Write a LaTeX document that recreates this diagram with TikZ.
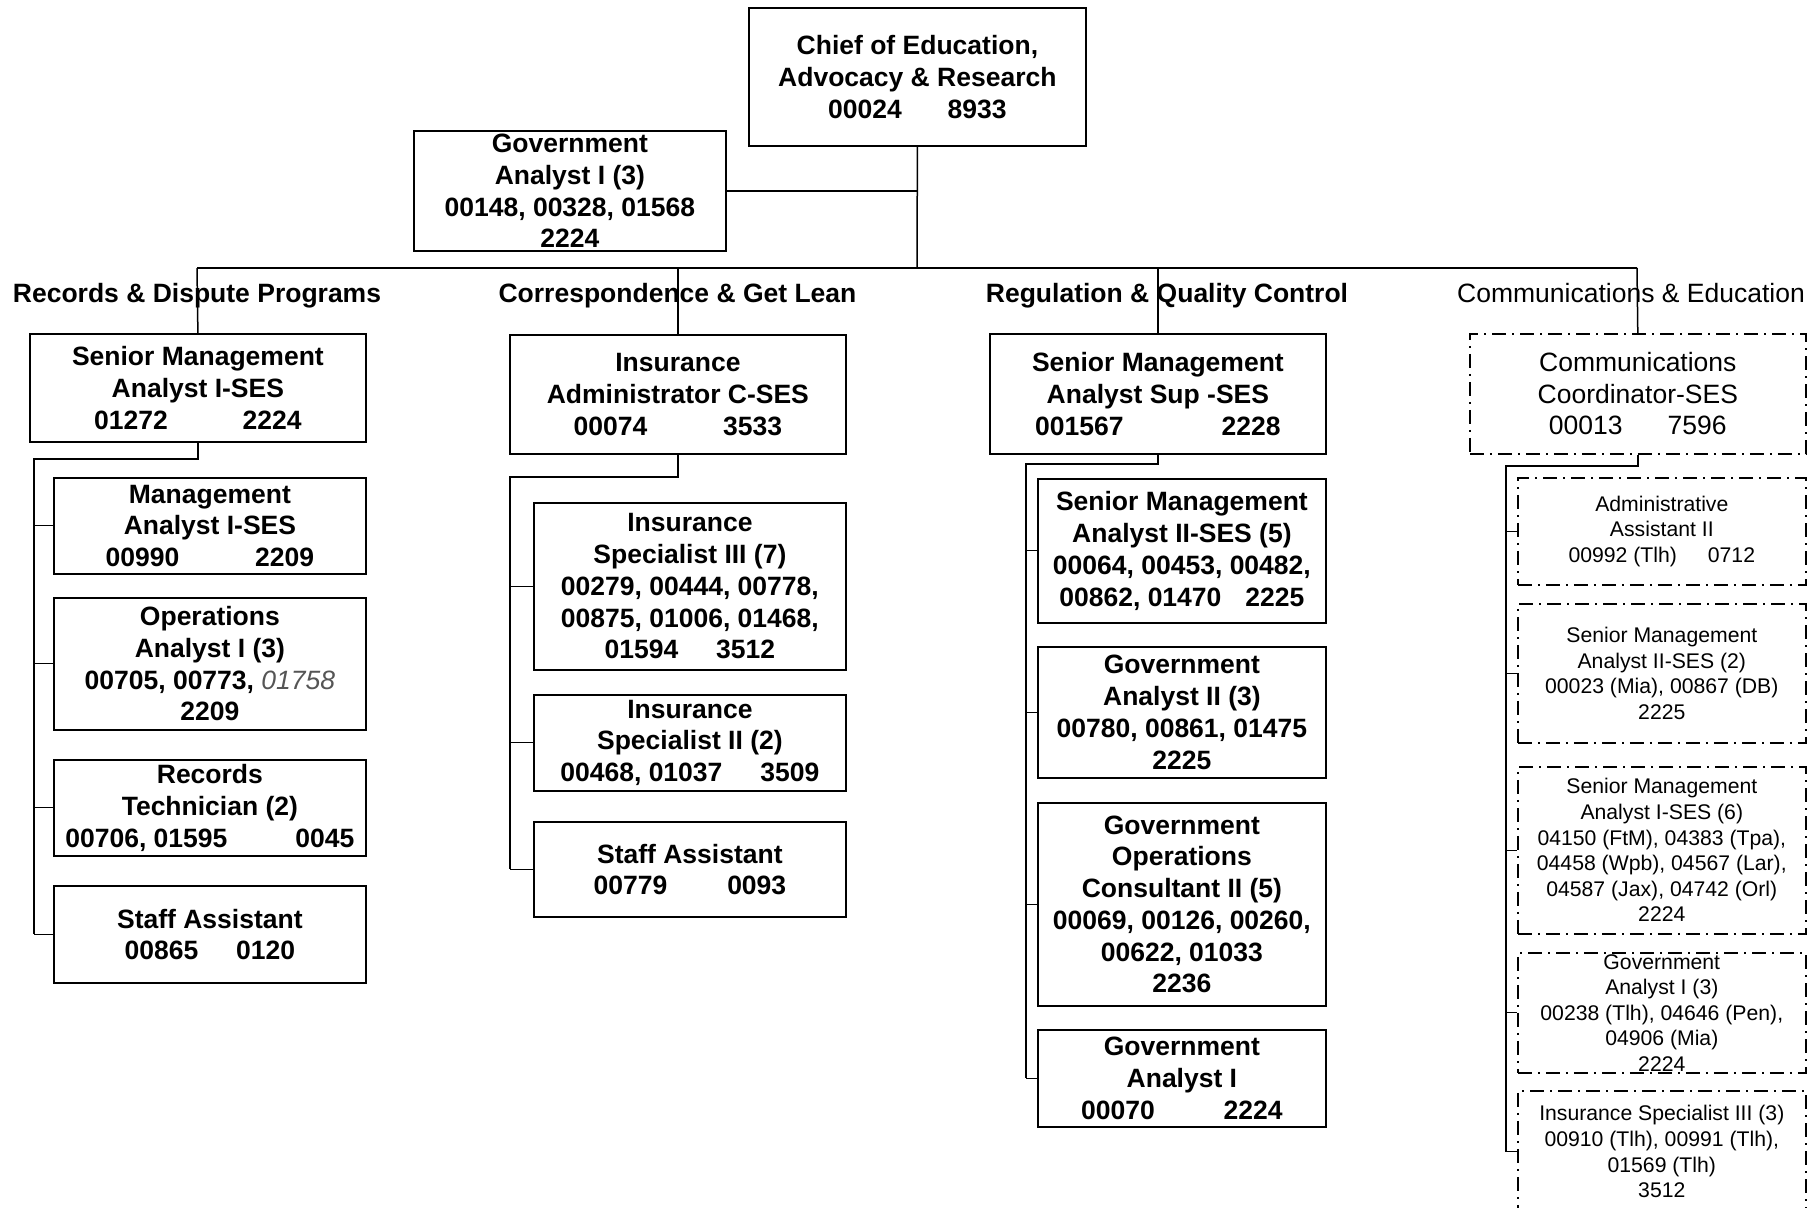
\documentclass[tikz,border=0pt]{standalone}
\usepackage{fontspec}
\setmainfont{Liberation Sans}
\definecolor{numgray}{HTML}{555555}
\begin{document}
\begin{tikzpicture}[x=1pt,y=-1pt,
  box/.style={draw, line width=1.8pt, align=center, inner sep=0pt, anchor=north west,
    font=\bfseries\fontsize{26.5}{31.7}\selectfont},
  headbox/.style={draw, line width=1.6pt, align=center, inner sep=0pt, anchor=north west,
    dash pattern=on 14pt off 6pt on 2pt off 6pt, font=\fontsize{26.5}{31.7}\selectfont},
  subbox/.style={draw, line width=1.6pt, align=center, inner sep=0pt, anchor=north west,
    dash pattern=on 14pt off 6pt on 2pt off 6pt, font=\fontsize{21.2}{25.6}\selectfont},
  hdr/.style={inner sep=0pt, anchor=base, font=\bfseries\fontsize{26.5}{31.7}\selectfont},
  hdrlight/.style={inner sep=0pt, anchor=base, font=\fontsize{26.5}{31.7}\selectfont},
  link/.style={line width=1.5pt},
  trunk/.style={line width=1.8pt},
  tick/.style={line width=1.1pt}]
\useasboundingbox (0,0) rectangle (1817,1207);

% top of the chart
\node[box, minimum width=337, minimum height=138] (chief) at (748,7)
  {Chief of Education,\\Advocacy \& Research\\00024\hspace{46pt}8933};
\node[box, minimum width=312, minimum height=120] (gov3) at (413,130)
  {Government\\Analyst I (3)\\00148, 00328, 01568\\2224};

% section headings
\node[hdr] (hrec) at (197,302) {Records \& Dispute Programs};
\node[hdr] (hins) at (677.5,302) {Correspondence \& Get Lean};
\node[hdr] (hreg) at (1167,302) {Regulation \& Quality Control};
\node[hdrlight] (hcom) at (1631,302) {Communications \& Education};

% Records & Dispute Programs
\node[box, minimum width=336, minimum height=108] (rechead) at (29,333)
  {Senior Management\\Analyst I-SES\\01272\hspace{75pt}2224};
\node[box, minimum width=312, minimum height=96] (rec1) at (53,477)
  {Management\\Analyst I-SES\\00990\hspace{76pt}2209};
\node[box, minimum width=312, minimum height=132] (rec2) at (53,597)
  {Operations\\Analyst I (3)\\00705, 00773, {\mdseries\itshape\color{numgray}01758}\\2209};
\node[box, minimum width=312, minimum height=96] (rec3) at (53,759)
  {Records\\Technician (2)\\00706, 01595\hspace{68pt}0045};
\node[box, minimum width=312, minimum height=97] (rec4) at (53,885)
  {Staff Assistant\\00865\hspace{38pt}0120};

% Correspondence & Get Lean
\node[box, minimum width=336, minimum height=119] (inshead) at (509,334)
  {Insurance\\Administrator C-SES\\00074\hspace{76pt}3533};
\node[box, minimum width=312, minimum height=167] (ins1) at (533,502)
  {Insurance\\Specialist III (7)\\00279, 00444, 00778,\\00875, 01006, 01468,\\01594\hspace{38pt}3512};
\node[box, minimum width=312, minimum height=96] (ins2) at (533,694)
  {Insurance\\Specialist II (2)\\00468, 01037\hspace{38pt}3509};
\node[box, minimum width=312, minimum height=95] (ins3) at (533,821)
  {Staff Assistant\\00779\hspace{60pt}0093};

% Regulation & Quality Control
\node[box, minimum width=336, minimum height=120] (reghead) at (989,333)
  {Senior Management\\Analyst Sup -SES\\001567\hspace{98pt}2228};
\node[box, minimum width=288, minimum height=144] (reg1) at (1037,478)
  {Senior Management\\Analyst II-SES (5)\\00064, 00453, 00482,\\00862, 01470\hspace{24pt}2225};
\node[box, minimum width=288, minimum height=131] (reg2) at (1037,646)
  {Government\\Analyst II (3)\\00780, 00861, 01475\\2225};
\node[box, minimum width=288, minimum height=203] (reg3) at (1037,802)
  {Government\\Operations\\Consultant II (5)\\00069, 00126, 00260,\\00622, 01033\\2236};
\node[box, minimum width=288, minimum height=97] (reg4) at (1037,1029)
  {Government\\Analyst I\\00070\hspace{69pt}2224};

% Communications & Education
\node[headbox, minimum width=336, minimum height=120] (comhead) at (1469,333)
  {Communications\\Coordinator-SES\\00013\hspace{45pt}7596};
\node[subbox, minimum width=288, minimum height=107] (com1) at (1517,477)
  {Administrative\\Assistant II\\00992 (Tlh)\hspace{31pt}0712};
\node[subbox, minimum width=288, minimum height=139] (com2) at (1517,603)
  {Senior Management\\Analyst II-SES (2)\\00023 (Mia), 00867 (DB)\\2225};
\node[subbox, minimum width=288, minimum height=167] (com3) at (1517,766)
  {Senior Management\\Analyst I-SES (6)\\04150 (FtM), 04383 (Tpa),\\04458 (Wpb), 04567 (Lar),\\04587 (Jax), 04742 (Orl)\\2224};
\node[subbox, minimum width=288, minimum height=120] (com4) at (1517,952)
  {Government\\Analyst I (3)\\00238 (Tlh), 04646 (Pen),\\04906 (Mia)\\2224};
\node[subbox, minimum width=288, minimum height=122] (com5) at (1517,1090)
  {Insurance Specialist III (3)\\00910 (Tlh), 00991 (Tlh),\\01569 (Tlh)\\3512};

% bus from the chief down to the four sections
\coordinate (bus) at (917,268);
\coordinate (busL) at (197,268);
\coordinate (busR) at (1637,268);
\draw[link] (chief.south) -- (bus);
\draw[link] (gov3.east) -- (gov3.east -| bus);
\draw[link] (busL) -- (busR);
\draw[link] (busL) -- (rechead.north);
\draw[link] (inshead.north |- busL) -- (inshead.north);
\draw[link] (reghead.north |- busL) -- (reghead.north);
\draw[link] (busR) -- (comhead.north);

% section trunks
\coordinate (rectrunk) at (34,459);
\draw[trunk] (rechead.south) |- (rectrunk) -- (rectrunk |- rec4.west);
\foreach \n in {rec1,rec2,rec3,rec4} \draw[tick] (rectrunk |- \n.west) -- (\n.west);

\coordinate (instrunk) at (510,477);
\draw[trunk] (inshead.south) |- (instrunk) -- (instrunk |- ins3.west);
\foreach \n in {ins1,ins2,ins3} \draw[tick] (instrunk |- \n.west) -- (\n.west);

\coordinate (regtrunk) at (1026,464);
\draw[trunk] (reghead.south) |- (regtrunk) -- (regtrunk |- reg4.west);
\foreach \n in {reg1,reg2,reg3,reg4} \draw[tick] (regtrunk |- \n.west) -- (\n.west);

\coordinate (comtrunk) at (1506,466);
\draw[trunk] (comhead.south) |- (comtrunk) -- (comtrunk |- com5.west);
\foreach \n in {com1,com2,com3,com4,com5} \draw[tick] (comtrunk |- \n.west) -- (\n.west);
\end{tikzpicture}
\end{document}
